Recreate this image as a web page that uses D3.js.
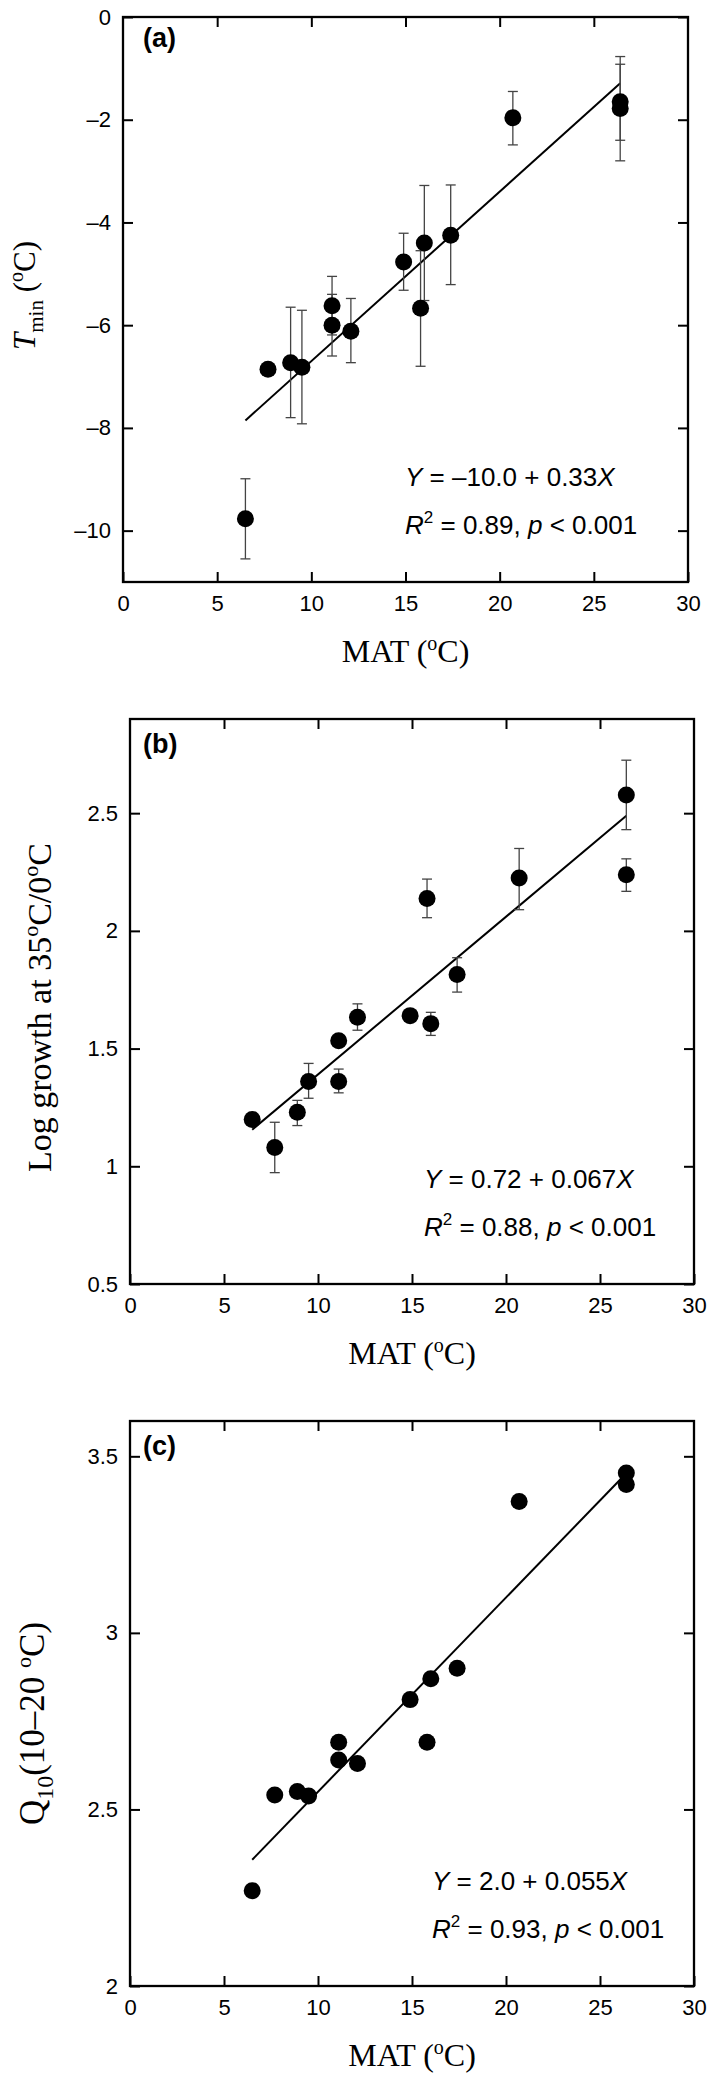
<!DOCTYPE html>
<html><head><meta charset="utf-8">
<script src="https://cdn.jsdelivr.net/npm/d3@7"></script>
<style>body{margin:0;background:#fff} svg{display:block}</style>
</head><body>
<script>
// ---------------- data ----------------
const MAT = [6.5, 7.7, 8.9, 9.5, 11.1, 11.1, 12.1, 14.9, 15.8, 16.0, 17.4, 20.7, 26.4, 26.4];
const xTicks = [0, 5, 10, 15, 20, 25, 30];

// (a) Tmin
const tminVal  = [-9.77, -6.86, -6.73, -6.82, -5.62, -6.00, -6.12, -4.77, -5.67, -4.40, -4.25, -1.96, -1.65, -1.78];
const tminLow  = [-10.55, null, -7.80, -7.92, -6.19, -6.60, -6.73, -5.32, -6.80, -5.52, -5.21, -2.49, -2.40, -2.80];
const tminHigh = [-8.99, null, -5.65, -5.71, -5.05, -5.40, -5.48, -4.21, -4.55, -3.28, -3.27, -1.45, -0.92, -0.77];
const tminTicks = [-10, -8, -6, -4, -2, 0];

// (b) Log growth at 35/0 C
const growthVal  = [1.199, 1.08, 1.23, 1.36, 1.533, 1.36, 1.633, 1.64, 2.138, 1.606, 1.815, 2.225, 2.577, 2.238];
const growthLow  = [null, 0.973, 1.173, 1.289, null, 1.312, 1.578, null, 2.056, 1.556, 1.74, 2.09, 2.43, 2.168];
const growthHigh = [null, 1.187, 1.28, 1.437, null, 1.413, 1.69, null, 2.22, 1.654, 1.886, 2.35, 2.725, 2.306];
const growthTicks = [0.5, 1, 1.5, 2, 2.5];

// (c) Q10
const q10Val = [2.27, 2.541, 2.551, 2.538, 2.69, 2.64, 2.63, 2.811, 2.69, 2.87, 2.90, 3.372, 3.453, 3.42];
const q10Ticks = [2, 2.5, 3, 3.5];

// regression fits
const fitRange = [6.5, 26.4];
const fitIntercepts = [-10.0, 0.72, 2.0];
const fitSlopes = [0.33, 0.067, 0.055];
const fitEq = ["–10.0 + 0.33", "0.72 + 0.067", "2.0 + 0.055"];
const fitR2 = ["0.89", "0.88", "0.93"];
const panelLetters = ["(a)", "(b)", "(c)"];

// ---------------- layout ----------------
const W = 709, H = 2077;
const svg = d3.select("body").append("svg").attr("width", W).attr("height", H)
  .style("background", "#fff");

const SANS = "'Liberation Sans', Arial, Helvetica, sans-serif";
const SERIF = "'Liberation Serif', 'Times New Roman', Times, serif";

const panels = [
  {box:{l:123, r:688, t:17, b:582}, yDom:[-11, 0], ticks:tminTicks, vals:tminVal, lo:tminLow, hi:tminHigh,
   fmt:d => d < 0 ? "–" + Math.abs(d) : String(d), ylabX:35, ylabDy:-4, ylabSize:31, annX:405, letter:{x:143, y:47}, ylab:"tmin"},
  {box:{l:130, r:694, t:719, b:1284}, yDom:[0.5, 2.9], ticks:growthTicks, vals:growthVal, lo:growthLow, hi:growthHigh,
   fmt:d => String(d), ylabX:51, ylabDy:6, ylabSize:34, annX:424, letter:{x:143, y:753}, ylab:"growth"},
  {box:{l:130, r:694, t:1421, b:1986}, yDom:[2, 3.6], ticks:q10Ticks, vals:q10Val, lo:null, hi:null,
   fmt:d => String(d), ylabX:44, ylabDy:20, ylabSize:35, annX:432, letter:{x:143, y:1455}, ylab:"q10"}
];

panels.forEach((p, i) => {
  const bx = p.box;
  const x = d3.scaleLinear().domain([0, 30]).range([bx.l, bx.r]);
  const y = d3.scaleLinear().domain(p.yDom).range([bx.b, bx.t]);
  const g = svg.append("g");

  // axes (ticks inward)
  const axB = g.append("g").attr("transform", `translate(0,${bx.b})`)
    .call(d3.axisBottom(x).tickValues(xTicks).tickSize(-10).tickPadding(13).tickFormat(d => String(d)));
  const axT = g.append("g").attr("transform", `translate(0,${bx.t})`)
    .call(d3.axisTop(x).tickValues(xTicks.slice(1, -1)).tickSize(-10).tickFormat(""));
  const axL = g.append("g").attr("transform", `translate(${bx.l},0)`)
    .call(d3.axisLeft(y).tickValues(p.ticks).tickSize(-10).tickPadding(12).tickFormat(p.fmt));
  const axR = g.append("g").attr("transform", `translate(${bx.r},0)`)
    .call(d3.axisRight(y).tickValues(p.ticks).tickSize(-10).tickFormat(""));
  [axB, axT, axL, axR].forEach(a => {
    a.select(".domain").remove();
    a.selectAll(".tick line").attr("stroke", "#000").attr("stroke-width", 2);
    a.selectAll(".tick text").attr("fill", "#000").style("font-family", SANS).style("font-size", "22px");
  });

  // frame
  g.append("rect").attr("x", bx.l).attr("y", bx.t).attr("width", bx.r - bx.l).attr("height", bx.b - bx.t)
    .attr("fill", "none").attr("stroke", "#000").attr("stroke-width", 2.3);

  // regression line
  g.append("line")
    .attr("x1", x(fitRange[0])).attr("y1", y(fitIntercepts[i] + fitSlopes[i] * fitRange[0]))
    .attr("x2", x(fitRange[1])).attr("y2", y(fitIntercepts[i] + fitSlopes[i] * fitRange[1]))
    .attr("stroke", "#000").attr("stroke-width", 2);

  const data = MAT.map((m, k) => ({x: m, v: p.vals[k], lo: p.lo ? p.lo[k] : null, hi: p.hi ? p.hi[k] : null}));

  // error bars
  const eb = g.append("g").attr("stroke", "#444").attr("stroke-width", 1.3);
  data.filter(d => d.lo != null).forEach(d => {
    const cx = x(d.x);
    eb.append("line").attr("x1", cx).attr("x2", cx).attr("y1", y(d.lo)).attr("y2", y(d.hi));
    eb.append("line").attr("x1", cx - 5).attr("x2", cx + 5).attr("y1", y(d.lo)).attr("y2", y(d.lo));
    eb.append("line").attr("x1", cx - 5).attr("x2", cx + 5).attr("y1", y(d.hi)).attr("y2", y(d.hi));
  });

  // points
  g.append("g").selectAll("circle").data(data).join("circle")
    .attr("cx", d => x(d.x)).attr("cy", d => y(d.v)).attr("r", 8.5).attr("fill", "#000");

  // panel letter
  g.append("text").attr("x", p.letter.x).attr("y", p.letter.y).text(panelLetters[i])
    .style("font-family", SANS).style("font-weight", "bold").style("font-size", "27px");

  // annotation
  const t1 = g.append("text").attr("x", p.annX).attr("y", bx.b - 96)
    .style("font-family", SANS).style("font-size", "26px");
  t1.append("tspan").style("font-style", "italic").text("Y");
  t1.append("tspan").text(" = " + fitEq[i]);
  t1.append("tspan").style("font-style", "italic").text("X");
  const t2 = g.append("text").attr("x", p.annX).attr("y", bx.b - 48)
    .style("font-family", SANS).style("font-size", "26px");
  t2.append("tspan").style("font-style", "italic").text("R");
  t2.append("tspan").attr("dy", -11).style("font-size", "17px").text("2");
  t2.append("tspan").attr("dy", 11).text(" = " + fitR2[i] + ", ");
  t2.append("tspan").style("font-style", "italic").text("p");
  t2.append("tspan").text(" < 0.001");

  // x-axis title
  const xt = g.append("text").attr("x", (bx.l + bx.r) / 2).attr("y", bx.b + 80)
    .attr("text-anchor", "middle").style("font-family", SERIF).style("font-size", "32px");
  xt.append("tspan").text("MAT (");
  xt.append("tspan").attr("dy", -12).style("font-size", "20px").text("o");
  xt.append("tspan").attr("dy", 12).text("C)");

  // y-axis title
  const s = p.ylabSize;
  const sub = Math.round(s * 0.68), sup = Math.round(s * 0.64);
  const up = Math.round(s * 0.38), dn = Math.round(s * 0.26);
  const cy = (bx.t + bx.b) / 2 + p.ylabDy;
  const yt = g.append("text").attr("transform", `translate(${p.ylabX},${cy}) rotate(-90)`)
    .attr("text-anchor", "middle").style("font-family", SERIF).style("font-size", s + "px");
  if (p.ylab === "tmin") {
    yt.append("tspan").style("font-style", "italic").text("T");
    yt.append("tspan").attr("dy", dn).style("font-size", sub + "px").text("min");
    yt.append("tspan").attr("dy", -dn).text(" (");
    yt.append("tspan").attr("dy", -up).style("font-size", sup + "px").text("o");
    yt.append("tspan").attr("dy", up).text("C)");
  } else if (p.ylab === "growth") {
    yt.append("tspan").text("Log growth at 35");
    yt.append("tspan").attr("dy", -up).style("font-size", sup + "px").text("o");
    yt.append("tspan").attr("dy", up).text("C/0");
    yt.append("tspan").attr("dy", -up).style("font-size", sup + "px").text("o");
    yt.append("tspan").attr("dy", up).text("C");
  } else {
    yt.append("tspan").text("Q");
    yt.append("tspan").attr("dy", dn).style("font-size", sub + "px").text("10");
    yt.append("tspan").attr("dy", -dn).text("(10–20 ");
    yt.append("tspan").attr("dy", -up).style("font-size", sup + "px").text("o");
    yt.append("tspan").attr("dy", up).text("C)");
  }
});
</script>
</body></html>
